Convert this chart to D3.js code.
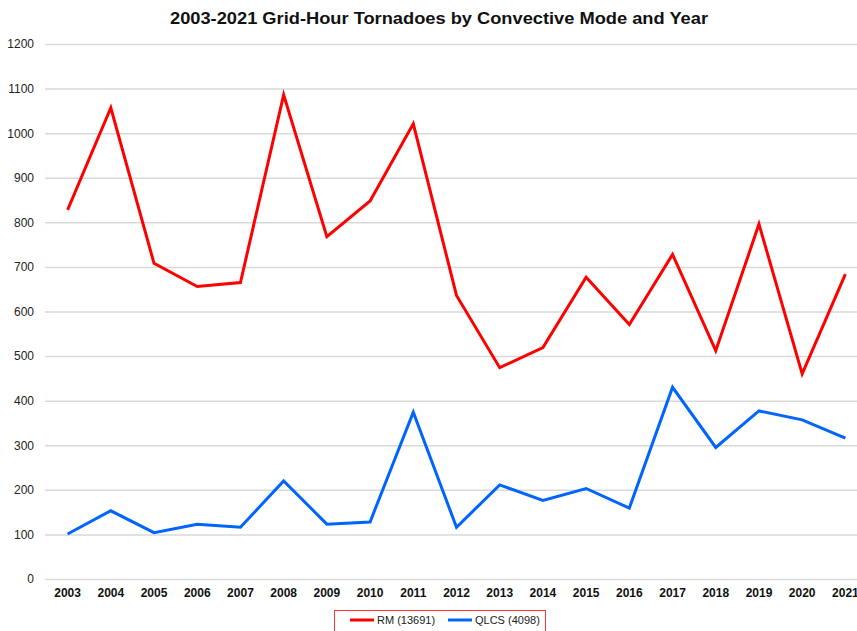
<!DOCTYPE html>
<html>
<head>
<meta charset="utf-8">
<script src="https://cdn.jsdelivr.net/npm/d3@7"></script>
<style>
  html, body { margin: 0; padding: 0; background: #fff; }
  svg { display: block; }
</style>
</head>
<body>
<svg id="chart" width="857" height="631"></svg>
<script>
const years = ["2003","2004","2005","2006","2007","2008","2009","2010","2011","2012","2013","2014","2015","2016","2017","2018","2019","2020","2021"];
const rmValues = [828,1057,708,656,665,1086,768,848,1021,636,474,519,677,571,728,512,796,460,684];
const qlcsValues = [101,153,104,123,116,220,123,128,374,116,211,176,203,159,430,295,377,357,316];
const yTicks = [0,100,200,300,400,500,600,700,800,900,1000,1100,1200];
const seriesNames = ["RM (13691)", "QLCS (4098)"];
const seriesColors = ["#ff0000", "#0064ff"];
const title = "2003-2021 Grid-Hour Tornadoes by Convective Mode and Year";

const svg = d3.select("#chart");
const font = "'Liberation Sans', Arial, sans-serif";

const x = d3.scaleBand().domain(years).range([46, 867]);
const y = d3.scaleLinear().domain([0, 1200]).range([579, 44]);

// title
svg.append("text")
  .attr("x", 439).attr("y", 24)
  .attr("text-anchor", "middle")
  .attr("font-family", font).attr("font-weight", "bold")
  .attr("font-size", 17).attr("fill", "#111")
  .attr("textLength", 538).attr("lengthAdjust", "spacingAndGlyphs")
  .text(title);

// y axis with gridlines
const yAxis = d3.axisLeft(y).tickValues(yTicks).tickFormat(d3.format("d"))
  .tickSize(-(857 - 45)).tickPadding(11);
const gy = svg.append("g").attr("transform", "translate(45,0)").call(yAxis);
gy.select(".domain").remove();
gy.selectAll(".tick line").attr("stroke", "#d9d9d9").attr("stroke-width", 1.5);
gy.selectAll(".tick text")
  .attr("font-family", font).attr("font-size", 12).attr("fill", "#222");

// x axis
const xAxis = d3.axisBottom(x).tickSize(0).tickPadding(9);
const gx = svg.append("g").attr("transform", "translate(0,579)").call(xAxis);
gx.select(".domain").remove();
gx.selectAll(".tick text")
  .attr("font-family", font).attr("font-size", 12).attr("font-weight", "bold").attr("fill", "#111");

// lines
const line = d3.line()
  .x((d, i) => x(years[i]) + x.bandwidth() / 2)
  .y(d => y(d));

[rmValues, qlcsValues].forEach((vals, k) => {
  svg.append("path")
    .datum(vals)
    .attr("d", line)
    .attr("fill", "none")
    .attr("stroke", seriesColors[k])
    .attr("stroke-width", 3)
    .attr("stroke-linejoin", "miter");
});

// legend
const lg = svg.append("g");
lg.append("rect")
  .attr("x", 334.5).attr("y", 610.5).attr("width", 211).attr("height", 24)
  .attr("fill", "#fff").attr("stroke", "#ff3333").attr("stroke-width", 1);
const legendItems = [{lx: 350, tx: 377}, {lx: 448, tx: 475}];
legendItems.forEach((it, k) => {
  lg.append("line")
    .attr("x1", it.lx).attr("x2", it.lx + 24)
    .attr("y1", 620).attr("y2", 620)
    .attr("stroke", seriesColors[k]).attr("stroke-width", 3);
  lg.append("text")
    .attr("x", it.tx).attr("y", 624)
    .attr("font-family", font).attr("font-size", 11).attr("fill", "#222")
    .text(seriesNames[k]);
});
</script>
</body>
</html>
